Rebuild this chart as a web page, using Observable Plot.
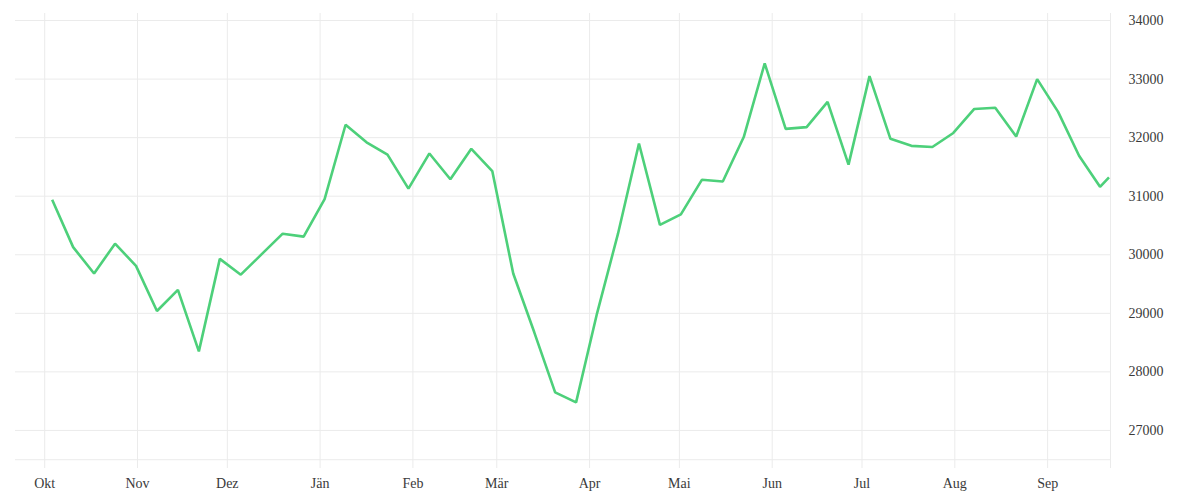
<!DOCTYPE html>
<html>
<head>
<meta charset="utf-8">
<script src="https://cdn.jsdelivr.net/npm/d3@7"></script>
<script src="https://cdn.jsdelivr.net/npm/@observablehq/plot@0.6"></script>
<style>
  html, body { margin: 0; padding: 0; background: #fff; }
  #chart { width: 1200px; height: 500px; }
</style>
</head>
<body>
<div id="chart"></div>
<script>
// ---- data ----
const dates = [
  "2022-10-03","2022-10-10","2022-10-17","2022-10-24","2022-10-31",
  "2022-11-07","2022-11-14","2022-11-21","2022-11-28",
  "2022-12-05","2022-12-12","2022-12-19","2022-12-26",
  "2023-01-02","2023-01-09","2023-01-16","2023-01-23","2023-01-30",
  "2023-02-06","2023-02-13","2023-02-20","2023-02-27",
  "2023-03-06","2023-03-13","2023-03-20","2023-03-27",
  "2023-04-03","2023-04-10","2023-04-17","2023-04-24",
  "2023-05-01","2023-05-08","2023-05-15","2023-05-22","2023-05-29",
  "2023-06-05","2023-06-12","2023-06-19","2023-06-26",
  "2023-07-03","2023-07-10","2023-07-17","2023-07-24","2023-07-31",
  "2023-08-07","2023-08-14","2023-08-21","2023-08-28",
  "2023-09-04","2023-09-11","2023-09-18","2023-09-21"
];
const values = [
  30940, 30130, 29680, 30190, 29810,
  29040, 29400, 28350, 29930,
  29660, 30010, 30360, 30310,
  30950, 32220, 31920, 31710, 31130,
  31730, 31290, 31810, 31430,
  29680, 28680, 27650, 27480,
  29000, 30360, 31900, 30510,
  30690, 31280, 31250, 32010, 33270,
  32150, 32180, 32610, 31540,
  33050, 31980, 31860, 31840, 32080,
  32490, 32510, 32020, 33000,
  32440, 31690, 31160, 31320
];
const monthTickDates = [
  "2022-10-01","2022-11-01","2022-12-01","2023-01-01","2023-02-01","2023-03-01",
  "2023-04-01","2023-05-01","2023-06-01","2023-07-01","2023-08-01","2023-09-01"
];
const monthLabels = ["Okt","Nov","Dez","Jän","Feb","Mär","Apr","Mai","Jun","Jul","Aug","Sep"];
const yTicks = [27000, 28000, 29000, 30000, 31000, 32000, 33000, 34000];
const yExtraGrid = [26500];
const xDomain = ["2022-09-21T06:00:00Z", "2023-09-22T00:00:00Z"];
const yDomain = [26350, 34120];

// ---- build ----
const data = dates.map((d, i) => ({date: new Date(d + "T12:00:00Z"), value: values[i]}));
const monthTicks = monthTickDates.map(d => new Date(d));
const labelByTime = new Map(monthTicks.map((d, i) => [+d, monthLabels[i]]));
const xDom = xDomain.map(d => new Date(d));

const gridColor = "#ebebeb";

const chart = Plot.plot({
  width: 1200,
  height: 500,
  marginLeft: 15,
  marginRight: 90,
  marginTop: 13,
  marginBottom: 32,
  style: {fontFamily: "'Liberation Serif', serif", fontSize: "14px", color: "#3a3a3a", background: "#fff"},
  x: {type: "utc", domain: xDom},
  y: {domain: yDomain},
  marks: [
    Plot.gridY(yExtraGrid.concat(yTicks), {stroke: gridColor, strokeOpacity: 1, strokeWidth: 1}),
    Plot.gridX(monthTicks, {stroke: gridColor, strokeOpacity: 1, strokeWidth: 1}),
    Plot.gridX([xDom[1]], {stroke: gridColor, strokeOpacity: 1, strokeWidth: 1}),
    Plot.line(data, {x: "date", y: "value", stroke: "#4dd07a", strokeWidth: 2.6, strokeLinejoin: "miter", strokeLinecap: "butt"}),
    Plot.axisX(monthTicks, {tickSize: 0, tickPadding: 10, label: null, tickFormat: d => labelByTime.get(+d)}),
    Plot.axisY(yTicks, {anchor: "right", tickSize: 0, tickPadding: 18, label: null, tickFormat: d => String(d)})
  ]
});
document.getElementById("chart").appendChild(chart);
</script>
</body>
</html>
